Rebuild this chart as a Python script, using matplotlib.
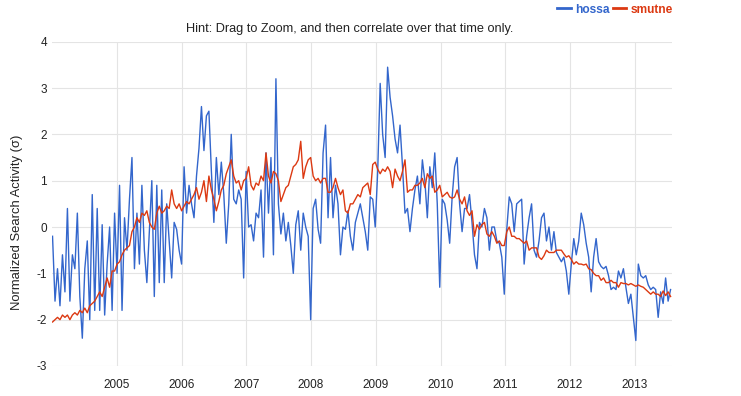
import pandas as pd
import matplotlib
matplotlib.use("Agg")
import matplotlib.pyplot as plt

# ==============================
# DATA (one value every two weeks)
# ==============================

start_date = "2004-01-04"
step = "14D"

hossa = [
    # 2004 - mid 2005
    -0.2, -1.6, -0.9, -1.7, -0.6, -1.4, 0.4, -1.6, -0.6, -0.9, 0.3, -1.5,
    -2.4, -0.9, -0.3, -2.0, 0.7, -1.8, 0.4, -1.8, 0.05, -1.9, -0.8, 0.0,
    -1.8, 0.3, -1.0, 0.9, -1.8, 0.2, -0.5, 0.6, 1.5, -0.9, 0.3, -0.8,
    0.9, -0.5, -1.2, -0.1, 1.0, -1.5, 0.9, -1.2,
    # mid 2005 - 2007
    0.8, -1.2, 0.5, -0.3, -1.1, 0.1, -0.05, -0.5, -0.8, 1.3, 0.3, 0.9,
    0.5, 0.2, 1.1, 1.7, 2.6, 1.65, 2.4, 2.5, 1.2, 0.1, 1.5, 0.7,
    1.4, 0.7, -0.35, 0.5, 2.0, 0.6, 0.5, 0.8, 0.6, -1.1, 1.2, 0.0,
    0.05, -0.3, 0.3, 0.2, 0.8, -0.65, 1.6, 0.3, 1.5,
    # 2007 - 2009
    -0.6, 3.2, 0.5, -0.15, 0.3, -0.3, 0.1, -0.4, -1.0, 0.05, 0.35, -0.5,
    0.3, 0.0, -0.2, -2.0, 0.4, 0.6, -0.05, -0.35, 1.6, 2.2, 0.2, 1.5,
    0.2, 0.9, 0.5, -0.6, 0.0, -0.05, 0.35, -0.2, -0.5, 0.1, 0.3, 0.5,
    0.2, -0.1, -0.5, 0.65, 0.6, 0.0, 1.2, 3.1,
    # 2009 - 2010
    2.0, 1.5, 3.45, 2.8, 2.4, 1.9, 1.6, 2.2, 1.3, 0.3, 0.4, -0.1,
    0.4, 0.8, 1.1, 0.5, 1.45, 1.0, 0.2, 1.3, 0.85, 1.6, 0.5, -1.3,
    0.6, 0.5, 0.15, -0.35, 0.65, 1.3, 1.5, 0.5, -0.1, 0.4, 0.4, 0.7,
    0.1, -0.6, -0.9, 0.1, 0.0, 0.4, 0.2, -0.5, 0.0,
    # 2010 - 2012
    0.0, -0.3, -0.35, -0.65, -1.45, -0.05, 0.65, 0.5, -0.1, 0.5, 0.55, 0.6,
    -0.8, -0.2, 0.2, 0.5, -0.5, -0.65, -0.3, 0.2, 0.3, -0.3, 0.0, -0.5,
    -0.1, -0.55, -0.65, -0.75, -0.65, -0.95, -1.45, -0.8, -0.25, -0.6, -0.3, 0.3,
    0.05, -0.35, -0.65, -1.4, -0.65, -0.25, -0.75, -0.85,
    # 2012 - 2013
    -0.9, -0.85, -1.05, -1.35, -1.3, -1.35, -0.95, -1.1, -0.9, -1.3, -1.65, -1.45,
    -1.95, -2.45, -0.8, -1.05, -1.1, -1.05, -1.25, -1.35, -1.3, -1.35, -1.95, -1.4,
    -1.65, -1.1, -1.6, -1.35,
]

smutne = [
    # 2004 - mid 2005
    -2.05, -2.0, -1.95, -2.0, -1.9, -1.95, -1.9, -2.0, -1.9, -1.85, -1.9, -1.8,
    -1.85, -1.75, -1.85, -1.7, -1.65, -1.6, -1.5, -1.4, -1.5, -1.3, -1.1, -1.3,
    -0.95, -0.95, -0.8, -0.75, -0.6, -0.5, -0.45, -0.4, -0.1, 0.0, 0.2, 0.1,
    0.3, 0.25, 0.35, 0.1, 0.0, -0.05, 0.3, 0.45,
    # mid 2005 - 2007
    0.3, 0.35, 0.45, 0.4, 0.8, 0.5, 0.4, 0.5, 0.35, 0.45, 0.55, 0.5,
    0.6, 0.7, 0.85, 0.6, 0.75, 1.0, 0.55, 1.1, 0.8, 0.6, 0.35, 0.55,
    0.8, 0.9, 1.15, 1.3, 1.45, 1.1, 0.95, 1.0, 0.8, 1.0, 1.05, 1.3,
    0.9, 0.8, 0.95, 0.9, 1.1, 1.0, 1.6, 1.1, 0.95,
    # 2007 - 2009
    1.2, 1.15, 1.0, 0.55, 0.7, 0.85, 0.9, 1.1, 1.3, 1.35, 1.45, 1.85,
    1.05, 1.3, 1.45, 1.5, 1.1, 1.0, 1.05, 0.95, 1.05, 1.05, 0.75, 0.75,
    0.85, 1.05, 0.85, 0.7, 0.8, 0.35, 0.3, 0.5, 0.5, 0.6, 0.7, 0.65,
    0.85, 0.9, 0.95, 0.7, 1.35, 1.4, 1.25, 1.15,
    # 2009 - 2010
    1.25, 1.2, 1.3, 1.2, 0.85, 1.25, 1.1, 1.0, 1.2, 1.45, 0.75, 0.8,
    0.8, 0.9, 0.9, 0.95, 1.05, 0.85, 1.15, 1.05, 1.1, 0.75, 0.8, 0.9,
    0.65, 0.7, 0.75, 0.65, 0.62, 0.65, 0.8, 0.6, 0.5, 0.65, 0.35, 0.25,
    0.35, -0.2, 0.05, -0.05, 0.05, 0.1, -0.15, -0.2, -0.1,
    # 2010 - 2012
    -0.2, -0.35, -0.3, -0.4, -0.4, -0.1, 0.0, -0.2, -0.2, -0.25, -0.25, -0.3,
    -0.35, -0.3, -0.5, -0.45, -0.45, -0.45, -0.65, -0.7, -0.62, -0.5, -0.55, -0.55,
    -0.55, -0.5, -0.5, -0.5, -0.58, -0.65, -0.62, -0.7, -0.8, -0.75, -0.8, -0.8,
    -0.82, -0.8, -0.9, -0.92, -1.0, -1.05, -1.05, -1.15,
    # 2012 - 2013
    -1.1, -1.2, -1.2, -1.15, -1.2, -1.2, -1.3, -1.2, -1.22, -1.22, -1.25, -1.22,
    -1.25, -1.28, -1.25, -1.28, -1.3, -1.35, -1.4, -1.45, -1.4, -1.45, -1.45, -1.5,
    -1.38, -1.48, -1.4, -1.5,
]

series_names = ["hossa", "smutne"]
series_colors = ["#3366CC", "#DC3912"]
year_ticks = [str(y) for y in range(2005, 2014)]
y_ticks = [-3, -2, -1, 0, 1, 2, 3, 4]

hint_text = "Hint: Drag to Zoom, and then correlate over that time only."
y_label = "Normalized Search Activity (\u03c3)"

dates = pd.date_range(start=start_date, periods=len(hossa), freq=step)

# ==============================
# FIGURE
# ==============================

plt.rcParams["font.family"] = ["Liberation Sans", "DejaVu Sans"]

fig = plt.figure(figsize=(7.41, 3.96), dpi=100)
ax = fig.add_axes([52 / 741, 1 - 366 / 396, 620 / 741, (366 - 41.7) / 396])

ax.plot(dates, hossa, color=series_colors[0], linewidth=1.0, label=series_names[0])
ax.plot(dates, smutne, color=series_colors[1], linewidth=1.0, label=series_names[1])

ax.set_xlim(pd.Timestamp("2004-01-01"), pd.Timestamp("2013-07-29"))
ax.set_ylim(-3, 4)

ax.set_xticks([pd.Timestamp(f"{y}-01-01") for y in year_ticks])
ax.set_xticklabels(year_ticks)
ax.set_yticks(y_ticks)
ax.set_yticklabels([str(v) for v in y_ticks])

ax.grid(True, color="#e4e4e4", linewidth=0.8)
ax.set_axisbelow(True)
for side in ["top", "right", "left", "bottom"]:
    ax.spines[side].set_visible(False)

ax.tick_params(axis="x", length=0, pad=9, labelsize=8.5, colors="#222222")
ax.tick_params(axis="y", length=0, pad=3.5, labelsize=8.5, colors="#222222")

fig.text(17.5 / 741, 1 - 222 / 396, y_label, rotation=90, ha="center", va="center",
         fontsize=9.4, color="#222222")
fig.text(350 / 741, 1 - 29 / 396, hint_text, ha="center", va="center",
         fontsize=9.2, color="#222222")

leg = ax.legend(loc="upper right", bbox_to_anchor=(676 / 741, 1.0),
                bbox_transform=fig.transFigure, ncol=2, frameon=False,
                handlelength=1.1, handletextpad=0.35, columnspacing=0.3,
                borderaxespad=0.2, borderpad=0.1,
                prop={"size": 8.6, "weight": "bold"})
for line, text, color in zip(leg.get_lines(), leg.get_texts(), series_colors):
    line.set_linewidth(2.0)
    text.set_color(color)

plt.savefig("out.png", dpi=100)
plt.close()
